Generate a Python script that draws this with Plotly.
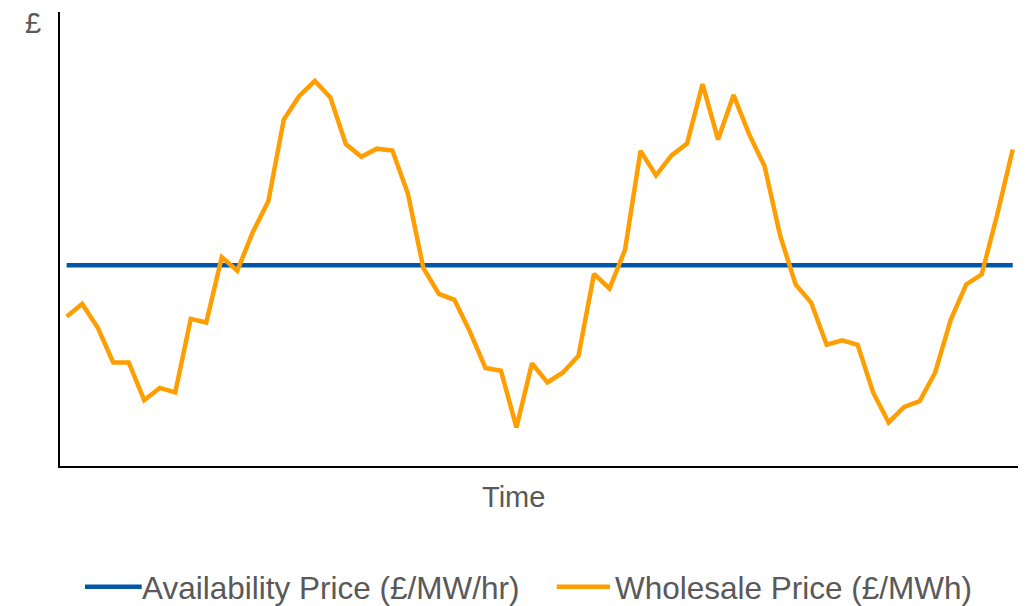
import plotly.graph_objects as go

# ---- data ----
time_index = list(range(62))
wholesale_price = [
    32.9, 35.7, 30.5, 22.8, 22.8, 14.5, 17.2, 16.2, 32.4, 31.6,
    46.0, 43.0, 51.5, 58.3, 76.3, 81.5, 84.8, 81.2, 70.9, 68.1,
    69.9, 69.5, 60.0, 43.6, 37.9, 36.6, 29.6, 21.6, 21.0, 8.5,
    22.6, 18.4, 20.6, 24.3, 42.3, 39.1, 47.6, 69.4, 64.0, 68.4,
    71.0, 84.1, 71.9, 81.7, 73.1, 66.0, 50.8, 40.0, 36.0, 26.7,
    27.7, 26.7, 16.2, 9.6, 13.0, 14.3, 20.6, 32.2, 40.0, 42.2,
    55.4, 69.7,
]
availability_level = 44.2
availability_price = [availability_level] * len(time_index)

series_names = ["Availability Price (£/MW/hr)", "Wholesale Price (£/MWh)"]
series_colors = ["#0057A8", "#FF9E00"]
x_title = "Time"
y_title = "£"

TEXT_COLOR = "#595959"
FONT = "Liberation Sans, Arial, sans-serif"

fig = go.Figure()
fig.add_trace(go.Scatter(
    x=time_index, y=availability_price, mode="lines", name=series_names[0],
    line=dict(color=series_colors[0], width=4.5), showlegend=False,
))
fig.add_trace(go.Scatter(
    x=time_index, y=wholesale_price, mode="lines", name=series_names[1],
    line=dict(color=series_colors[1], width=4.5), showlegend=False,
))

# custom legend (line samples + labels) below the plot
legend_items = [
    (series_colors[0], series_names[0], 0.0261, 0.0853, 0.0835),
    (series_colors[1], series_names[1], 0.5185, 0.5741, 0.5775),
]
line_y = -0.266
text_y = -0.268
for color, name, x0, x1, xt in legend_items:
    fig.add_shape(type="line", xref="paper", yref="paper",
                  x0=x0, x1=x1, y0=line_y, y1=line_y,
                  line=dict(color=color, width=4.5))
    fig.add_annotation(xref="paper", yref="paper", x=xt, y=text_y,
                       xanchor="left", yanchor="middle", showarrow=False,
                       text=name, font=dict(size=31.5, color=TEXT_COLOR, family=FONT))

# "£" label at the top of the y axis
fig.add_annotation(xref="paper", yref="paper", x=-0.0282, y=0.9747,
                   xanchor="center", yanchor="middle", showarrow=False,
                   text=y_title, font=dict(size=29, color=TEXT_COLOR, family=FONT))

# "Time" axis title
fig.add_annotation(xref="paper", yref="paper", x=0.473, y=-0.0683,
                   xanchor="center", yanchor="middle", showarrow=False,
                   text=x_title, font=dict(size=29, color=TEXT_COLOR, family=FONT))

fig.update_layout(
    width=1030, height=606,
    margin=dict(l=60, r=12, t=12, b=140),
    plot_bgcolor="white", paper_bgcolor="white",
    font=dict(family=FONT, color=TEXT_COLOR),
    xaxis=dict(
        range=[-0.43, 61.34], showgrid=False, zeroline=False,
        showticklabels=False, ticks="",
        showline=True, linecolor="black", linewidth=2,
    ),
    yaxis=dict(
        range=[0, 100], showgrid=False, zeroline=False,
        showticklabels=False, ticks="",
        showline=True, linecolor="black", linewidth=2,
    ),
)

fig.write_html("out.html")
